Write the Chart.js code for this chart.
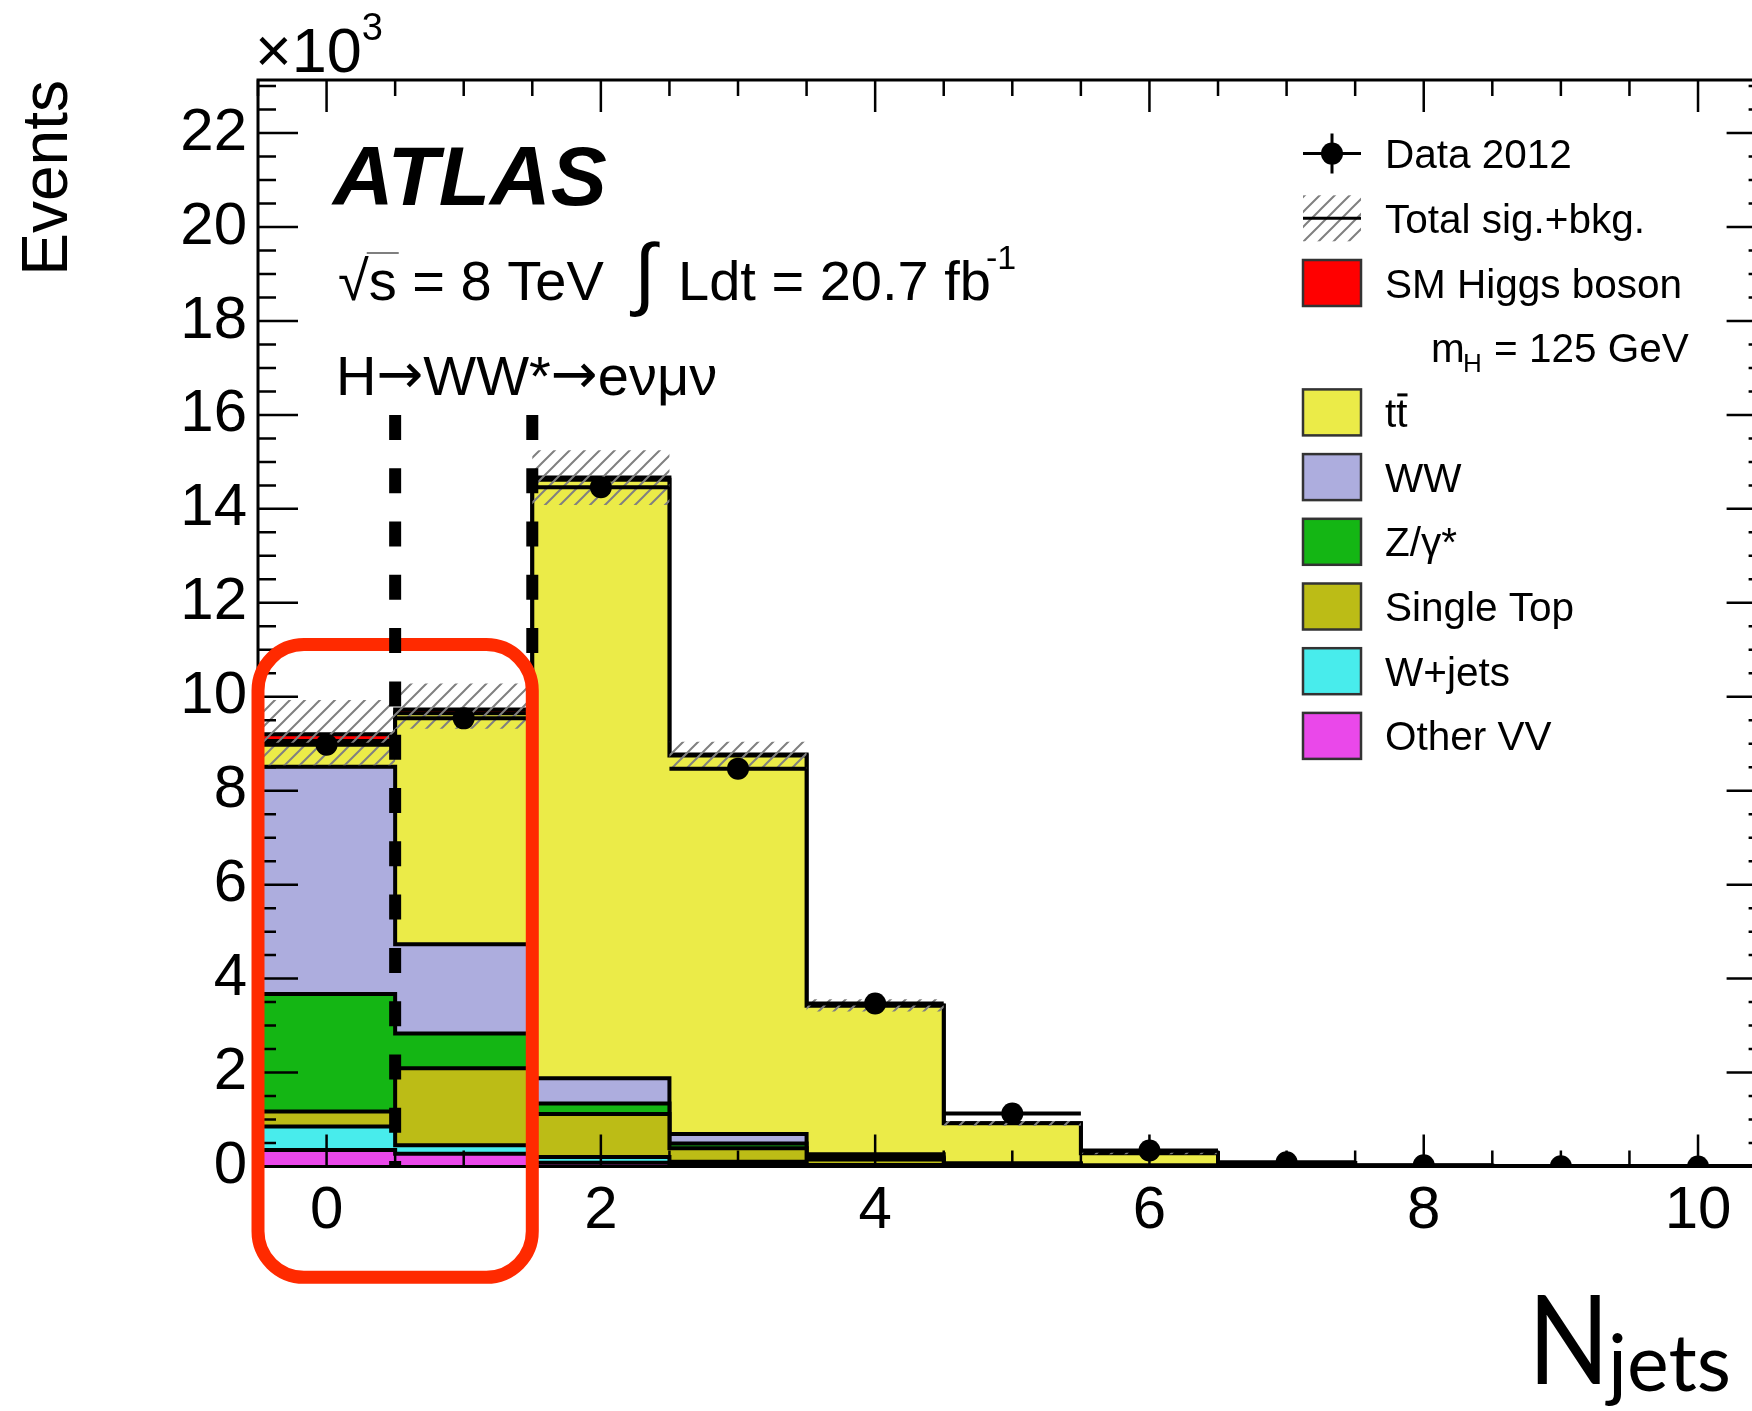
<!DOCTYPE html>
<html>
<head>
<meta charset="utf-8">
<title>Njets</title>
<script src="https://cdn.jsdelivr.net/npm/chart.js@4.4.1/dist/chart.umd.min.js"></script>
<style>
  html, body { margin: 0; padding: 0; background: #fff; overflow: hidden; }
  #wrap { width: 1752px; height: 1411px; overflow: hidden; position: relative; }
  canvas { display: block; }
</style>
</head>
<body>
<div id="wrap"><canvas id="njets" width="1780" height="1411"></canvas></div>
<script>
// jet multiplicity bins
const nJets = [0, 1, 2, 3, 4, 5, 6, 7, 8, 9, 10];

// expected events per bin (x10^3), stacked bottom -> top
const otherVV   = [0.35, 0.27, 0.08, 0.04, 0.01, 0.005, 0.002, 0, 0, 0, 0];
const wJets     = [0.50, 0.18, 0.12, 0.06, 0.02, 0.005, 0.002, 0, 0, 0, 0];
const singleTop = [0.32, 1.64, 0.92, 0.29, 0.12, 0.03, 0.01, 0.002, 0, 0, 0];
const zGamma    = [2.50, 0.74, 0.22, 0.10, 0.04, 0.01, 0.003, 0, 0, 0, 0];
const ww        = [4.84, 1.90, 0.54, 0.20, 0.07, 0.02, 0.005, 0.001, 0, 0, 0];
const ttbar     = [0.55, 4.92, 12.74, 8.06, 3.16, 0.85, 0.26, 0.07, 0.018, 0.004, 0.001];
const higgs     = [0.14, 0.08, 0.05, 0.02, 0.01, 0.002, 0, 0, 0, 0, 0];

// observed events (x10^3)
const dataEvents = [8.98, 9.54, 14.46, 8.47, 3.47, 1.13, 0.34, 0.09, 0.025, 0.006, 0.002];

// total sig.+bkg. uncertainty band edges (x10^3)
const bandLow  = [8.54, 9.32, 14.08, 8.47, 3.30, 0.87, 0.26, 0.06, 0.013, 0.002, 0];
const bandHigh = [9.93, 10.28, 15.25, 9.04, 3.56, 0.97, 0.30, 0.08, 0.022, 0.006, 0.002];

// axis ticks
const xTickValues = [0, 2, 4, 6, 8, 10];
const yTickValues = [0, 2, 4, 6, 8, 10, 12, 14, 16, 18, 20, 22];
const yMax = 23.13;

// dashed jet-bin boundaries and the highlighted 0/1-jet region
const cutEdges  = [0.5, 1.5];
const cutTop    = [16.0, 16.0];
const cutBottom = [0, 10.85];
const boxX = [-0.5, 1.5];
const boxY = [-2.36, 11.11];

const FONT = '"Liberation Sans", Arial, Helvetica, sans-serif';

// "////" hatch used for the uncertainty band
function makeHatch() {
  const c = document.createElement('canvas');
  c.width = 15; c.height = 15;
  const g = c.getContext('2d');
  g.strokeStyle = '#808080';
  g.lineWidth = 2;
  g.beginPath();
  g.moveTo(-2, 17); g.lineTo(17, -2);
  g.moveTo(-9.5, 9.5); g.lineTo(9.5, -9.5);
  g.moveTo(5.5, 24.5); g.lineTo(24.5, 5.5);
  g.stroke();
  return g.createPattern(c, 'repeat');
}
const hatch = makeHatch();

// histogram as step points on the bin edges
function histPoints(values) {
  const pts = values.map((v, i) => ({ x: nJets[i] - 0.5, y: v }));
  pts.push({ x: nJets[nJets.length - 1] + 0.5, y: values[values.length - 1] });
  return pts;
}

const stackSeries = [
  { label: 'Other VV', values: otherVV, color: '#ea48ea' },
  { label: 'W+jets', values: wJets, color: '#48ecec' },
  { label: 'Single Top', values: singleTop, color: '#bcbc16' },
  { label: 'Z/\u03b3*', values: zGamma, color: '#14b614' },
  { label: 'WW', values: ww, color: '#adadde' },
  { label: 'tt', values: ttbar, color: '#ebeb48' },
  { label: 'SM Higgs boson', values: higgs, color: '#ff0000' }
];

const datasets = stackSeries.map((s, i) => ({
  label: s.label,
  data: histPoints(s.values),
  yAxisID: 'y',
  stepped: true,
  fill: 'origin',
  backgroundColor: s.color,
  borderColor: '#000',
  borderWidth: 4,
  pointRadius: 0,
  order: 10 + i
}));

const bandLowIndex = datasets.length + 1;
datasets.push({
  label: 'Total sig.+bkg.',
  data: histPoints(bandHigh),
  yAxisID: 'yData',
  stepped: true,
  fill: { target: bandLowIndex },
  backgroundColor: hatch,
  borderWidth: 0,
  pointRadius: 0,
  order: 4
});
datasets.push({
  label: 'band low',
  data: histPoints(bandLow),
  yAxisID: 'yData',
  stepped: true,
  fill: false,
  borderWidth: 0,
  pointRadius: 0,
  order: 4
});

// horizontal bin-width bars of the data points
const dataBars = [];
dataEvents.forEach((v, i) => {
  dataBars.push({ x: nJets[i] - 0.5, y: v }, { x: nJets[i] + 0.5, y: v }, { x: nJets[i] + 0.5, y: null });
});
datasets.push({
  label: 'data bars',
  data: dataBars,
  yAxisID: 'yData',
  borderColor: '#000',
  borderWidth: 4,
  pointRadius: 0,
  fill: false,
  spanGaps: false,
  order: 2
});
datasets.push({
  label: 'Data 2012',
  data: dataEvents.map((v, i) => ({ x: nJets[i], y: v })),
  yAxisID: 'yData',
  showLine: false,
  pointRadius: 11,
  pointBackgroundColor: '#000',
  pointBorderWidth: 0,
  fill: false,
  order: 1
});

cutEdges.forEach((x, i) => {
  datasets.push({
    label: 'cut ' + i,
    data: [{ x: x, y: cutTop[i] }, { x: x, y: cutBottom[i] }],
    yAxisID: 'yData',
    borderColor: '#000',
    borderWidth: 12,
    borderDash: [25, 28.3],
    borderCapStyle: 'butt',
    pointRadius: 0,
    fill: false,
    order: 0
  });
});

// frame with inward ticks on all four sides, then the highlight box
const framePlugin = {
  id: 'frame',
  afterDatasetDraw(chart, args) {
    if (chart.data.datasets[args.index].label !== 'Data 2012') return;
    const { ctx, chartArea: a, scales: { x, y } } = chart;
    ctx.save();
    ctx.strokeStyle = '#000';
    ctx.lineWidth = 2.5;
    ctx.beginPath();
    for (let v = -0.5; v <= 10.5; v += 0.5) {
      const px = x.getPixelForValue(v);
      const len = xTickValues.includes(v) ? 32 : 16;
      ctx.moveTo(px, a.bottom); ctx.lineTo(px, a.bottom - len);
      ctx.moveTo(px, a.top); ctx.lineTo(px, a.top + len);
    }
    for (let v = 0; v <= yMax; v += 0.5) {
      const py = y.getPixelForValue(v);
      const len = yTickValues.includes(v) ? 40 : 18;
      ctx.moveTo(a.left, py); ctx.lineTo(a.left + len, py);
      ctx.moveTo(a.right, py); ctx.lineTo(a.right - len, py);
    }
    ctx.stroke();
    ctx.lineWidth = 3;
    ctx.strokeRect(a.left, a.top, a.right - a.left, a.bottom - a.top);

    // highlighted region
    const bx0 = x.getPixelForValue(boxX[0]), bx1 = x.getPixelForValue(boxX[1]);
    const by0 = y.getPixelForValue(boxY[1]), by1 = y.getPixelForValue(boxY[0]);
    ctx.strokeStyle = '#ff2a00';
    ctx.lineWidth = 13;
    ctx.beginPath();
    ctx.roundRect(bx0, by0, bx1 - bx0, by1 - by0, 46);
    ctx.stroke();
    ctx.restore();
  }
};

function drawLegend(ctx) {
  const bx = 1303, bw = 58, bh = 46, tx = 1385, top = 153.6, row = 64.7;
  ctx.font = '40.5px ' + FONT;
  ctx.fillStyle = '#000';
  ctx.textBaseline = 'alphabetic';
  ctx.textAlign = 'left';
  const base = k => top + k * row + 14.5;
  const mid = k => top + k * row;

  // data marker
  ctx.strokeStyle = '#000';
  ctx.lineWidth = 3;
  ctx.beginPath();
  ctx.moveTo(bx, mid(0)); ctx.lineTo(bx + bw, mid(0));
  ctx.moveTo(bx + bw / 2, mid(0) - 20); ctx.lineTo(bx + bw / 2, mid(0) + 20);
  ctx.stroke();
  ctx.beginPath();
  ctx.arc(bx + bw / 2, mid(0), 11, 0, Math.PI * 2);
  ctx.fill();
  ctx.fillText('Data 2012', tx, base(0));

  // total band
  ctx.fillStyle = hatch;
  ctx.fillRect(bx, mid(1) - bh / 2, bw, bh);
  ctx.beginPath();
  ctx.moveTo(bx, mid(1)); ctx.lineTo(bx + bw, mid(1));
  ctx.stroke();
  ctx.fillStyle = '#000';
  ctx.fillText('Total sig.+bkg.', tx, base(1));

  const rows = [
    { k: 2, s: stackSeries[6] },
    { k: 4, s: stackSeries[5] },
    { k: 5, s: stackSeries[4] },
    { k: 6, s: stackSeries[3] },
    { k: 7, s: stackSeries[2] },
    { k: 8, s: stackSeries[1] },
    { k: 9, s: stackSeries[0] }
  ];
  rows.forEach(r => {
    ctx.fillStyle = r.s.color;
    ctx.fillRect(bx, mid(r.k) - bh / 2, bw, bh);
    ctx.strokeStyle = '#333';
    ctx.lineWidth = 2.5;
    ctx.strokeRect(bx, mid(r.k) - bh / 2, bw, bh);
    ctx.fillStyle = '#000';
    ctx.fillText(r.s.label, tx, base(r.k));
  });
  // bar over the second t of tt
  const tw = ctx.measureText('t').width;
  ctx.strokeStyle = '#000';
  ctx.lineWidth = 3;
  ctx.beginPath();
  ctx.moveTo(tx + tw + 1, base(4) - 32);
  ctx.lineTo(tx + 2 * tw, base(4) - 32);
  ctx.stroke();

  // m_H = 125 GeV
  ctx.fillText('m', 1431, base(3));
  ctx.font = '26px ' + FONT;
  ctx.fillText('H', 1463, base(3) + 10);
  ctx.font = '40.5px ' + FONT;
  ctx.fillText('= 125 GeV', 1494, base(3));
}

// draw a run of [text, font, dy] pieces left to right
function drawRun(ctx, x, y, pieces) {
  pieces.forEach(p => {
    ctx.font = p[1];
    ctx.fillText(p[0], x, y + (p[2] || 0));
    x += ctx.measureText(p[0]).width;
  });
  return x;
}

const textPlugin = {
  id: 'labels',
  afterDraw(chart) {
    const ctx = chart.ctx;
    ctx.save();
    ctx.fillStyle = '#000';
    ctx.textAlign = 'left';
    ctx.textBaseline = 'alphabetic';

    // x10^3 multiplier
    drawRun(ctx, 255, 72, [['\u00d710', '63px ' + FONT], ['3', '38px ' + FONT, -32]]);

    // y axis title
    ctx.save();
    ctx.translate(67, 80);
    ctx.rotate(-Math.PI / 2);
    ctx.textAlign = 'right';
    ctx.font = '64px ' + FONT;
    ctx.fillText('Events', 0, 0);
    ctx.restore();

    // x axis title
    ctx.save();
    ctx.translate(1528, 1384);
    ctx.scale(0.86, 1);
    ctx.font = '124px Lato';
    ctx.fillText('N', 0, 0);
    ctx.restore();
    ctx.font = '79px Lato';
    ctx.fillText('jets', 1608, 1391);

    // ATLAS label
    ctx.font = 'italic bold 84px ' + FONT;
    ctx.fillText('ATLAS', 333, 205);

    // energy and luminosity
    ctx.font = '56px ' + FONT;
    const sq = ctx.measureText('\u221a').width;
    ctx.fillText('\u221as = 8 TeV', 338, 300);
    const sw = ctx.measureText('s').width;
    ctx.strokeStyle = '#555';
    ctx.lineWidth = 1.5;
    ctx.beginPath();
    ctx.moveTo(338 + sq - 2, 253);
    ctx.lineTo(338 + sq + sw + 2, 253);
    ctx.stroke();
    ctx.font = '80px ' + FONT;
    ctx.fillText('\u222b', 634, 300);
    ctx.font = '56px ' + FONT;
    ctx.fillText('Ldt = 20.7 fb', 678, 300);
    ctx.font = '34px ' + FONT;
    ctx.fillText('-1', 986, 269);

    // decay channel
    const arrowFont = '56px "DejaVu Sans"';
    const f56 = '56px ' + FONT;
    drawRun(ctx, 336, 395, [
      ['H', f56], ['\u2192', arrowFont, -2], ['WW*', f56],
      ['\u2192', arrowFont, -2], ['e\u03bd\u03bc\u03bd', f56]
    ]);

    drawLegend(ctx);
    ctx.restore();
  }
};

new Chart(document.getElementById('njets'), {
  type: 'line',
  data: { datasets: datasets },
  options: {
    responsive: false,
    animation: false,
    events: [],
    layout: { padding: { top: 80, right: 13.4, left: 0, bottom: 0 } },
    plugins: { legend: { display: false }, tooltip: { enabled: false } },
    scales: {
      x: {
        type: 'linear',
        min: -0.5,
        max: 10.5,
        grid: { display: false, drawTicks: false },
        border: { display: false },
        afterBuildTicks: s => { s.ticks = xTickValues.map(v => ({ value: v })); },
        afterFit: s => { s.height = 244.5; },
        ticks: {
          autoSkip: false,
          maxRotation: 0,
          padding: 9,
          color: '#000',
          font: { family: FONT, size: 60 }
        }
      },
      y: {
        type: 'linear',
        stacked: true,
        min: 0,
        max: yMax,
        grid: { display: false, drawTicks: false },
        border: { display: false },
        afterBuildTicks: s => { s.ticks = yTickValues.map(v => ({ value: v })); },
        afterFit: s => { s.width = 258; },
        ticks: {
          autoSkip: false,
          padding: 11,
          color: '#000',
          font: { family: FONT, size: 60 }
        }
      },
      yData: {
        type: 'linear',
        display: false,
        stacked: false,
        min: 0,
        max: yMax
      }
    }
  },
  plugins: [framePlugin, textPlugin]
});
</script>
</body>
</html>
